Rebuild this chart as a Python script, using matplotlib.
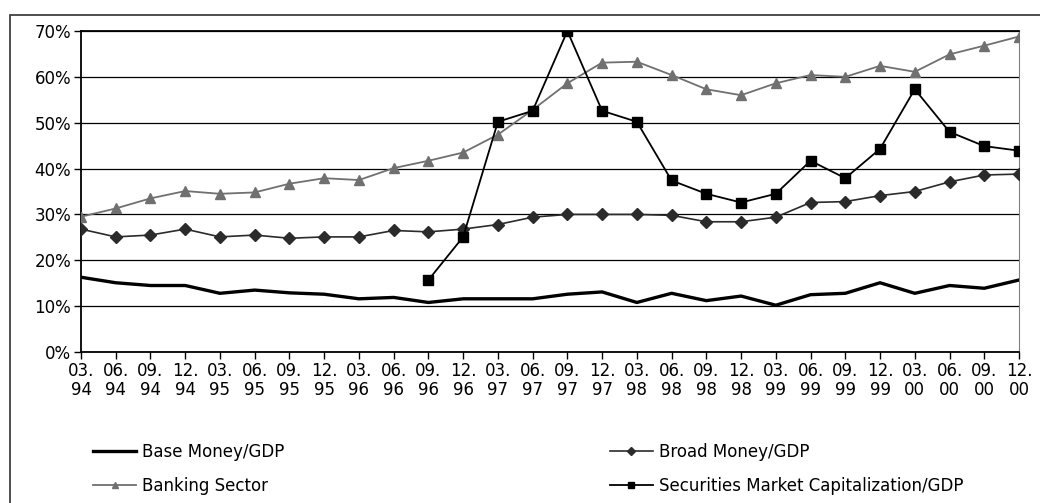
import numpy as np
import matplotlib
matplotlib.use("Agg")
import matplotlib.pyplot as plt
from matplotlib.patches import Rectangle
from matplotlib.ticker import FuncFormatter, MultipleLocator

# === Данные (в % ВВП) ===
quarters = ["03.\n94", "06.\n94", "09.\n94", "12.\n94",
            "03.\n95", "06.\n95", "09.\n95", "12.\n95",
            "03.\n96", "06.\n96", "09.\n96", "12.\n96",
            "03.\n97", "06.\n97", "09.\n97", "12.\n97",
            "03.\n98", "06.\n98", "09.\n98", "12.\n98",
            "03.\n99", "06.\n99", "09.\n99", "12.\n99",
            "03.\n00", "06.\n00", "09.\n00", "12.\n00"]

base_money = [16.3, 15.1, 14.5, 14.5, 12.8, 13.5, 12.9, 12.6, 11.6, 11.9, 10.8, 11.6,
              11.6, 11.6, 12.6, 13.1, 10.8, 12.8, 11.2, 12.2, 10.2, 12.5, 12.8, 15.1,
              12.8, 14.5, 13.9, 15.7]
broad_money = [26.8, 25.1, 25.5, 26.8, 25.1, 25.5, 24.8, 25.1, 25.1, 26.5, 26.2, 26.8,
               27.8, 29.4, 30.0, 30.0, 30.0, 29.8, 28.4, 28.4, 29.4, 32.6, 32.8, 34.1,
               35.0, 37.1, 38.6, 38.8]
banking = [29.5, 31.3, 33.5, 35.1, 34.5, 34.8, 36.7, 37.9, 37.5, 40.1, 41.7, 43.5,
           47.4, 52.8, 58.6, 63.1, 63.3, 60.4, 57.3, 56.0, 58.6, 60.4, 60.0, 62.4,
           61.1, 64.9, 66.8, 68.8]
securities = [np.nan] * 10 + [15.7, 25.1, 50.2, 52.6, 70.0, 52.6, 50.2, 37.4, 34.5, 32.6,
                              34.5, 41.7, 37.9, 44.3, 57.3, 48.0, 44.9, 43.9]

plt.rcParams["font.family"] = ["DejaVu Sans"]

fig = plt.figure(figsize=(10.4, 5.03), dpi=100)
W, H = 1040, 503
ax = fig.add_axes([81 / W, 1 - 352 / H, (1019 - 81) / W, (352 - 31) / H])

x = np.arange(len(quarters))
ax.plot(x, base_money, color="black", lw=2.4, label="Base Money/GDP", zorder=3)
ax.plot(x, broad_money, color="#2b2b2b", lw=1.2, marker="D", ms=6.5,
        label="Broad Money/GDP", zorder=4)
ax.plot(x, banking, color="#707070", lw=1.3, marker="^", ms=7,
        label="Banking Sector", zorder=4)
ax.plot(x, securities, color="black", lw=1.3, marker="s", ms=7.5,
        label="Securities Market Capitalization/GDP", zorder=5)

ax.set_xlim(0, len(quarters) - 1)
ax.set_ylim(0, 70)
ax.yaxis.set_major_locator(MultipleLocator(10))
ax.yaxis.set_major_formatter(FuncFormatter(lambda v, p: f"{v:.0f}%"))
ax.set_xticks(x)
ax.set_xticklabels(quarters, linespacing=1.1)
ax.tick_params(axis="both", labelsize=12, length=5, width=1, direction="out", pad=2)
ax.grid(axis="y", color="black", lw=0.9)
ax.set_axisbelow(True)
for side in ["left", "bottom", "top"]:
    ax.spines[side].set_color("black")
    ax.spines[side].set_linewidth(1.3)
ax.spines["right"].set_color("#808080")

# рамка области диаграммы
fig.patches.append(Rectangle((10 / W, -0.05), 1.1, 1 - 15 / H + 0.05,
                             transform=fig.transFigure, fill=False,
                             edgecolor="#404040", lw=1.3))

h, l = ax.get_legend_handles_labels()
order = [0, 2, 1, 3]
fig.legend([h[i] for i in order], [l[i] for i in order], ncol=2,
           loc="upper left", bbox_to_anchor=(93 / W, 1 - 443 / H),
           frameon=False, fontsize=12, handlelength=2.6, handletextpad=0.35,
           borderpad=0, borderaxespad=0, markerscale=0.6,
           columnspacing=19.5, labelspacing=0.95)

fig.savefig("out.png", dpi=100)
